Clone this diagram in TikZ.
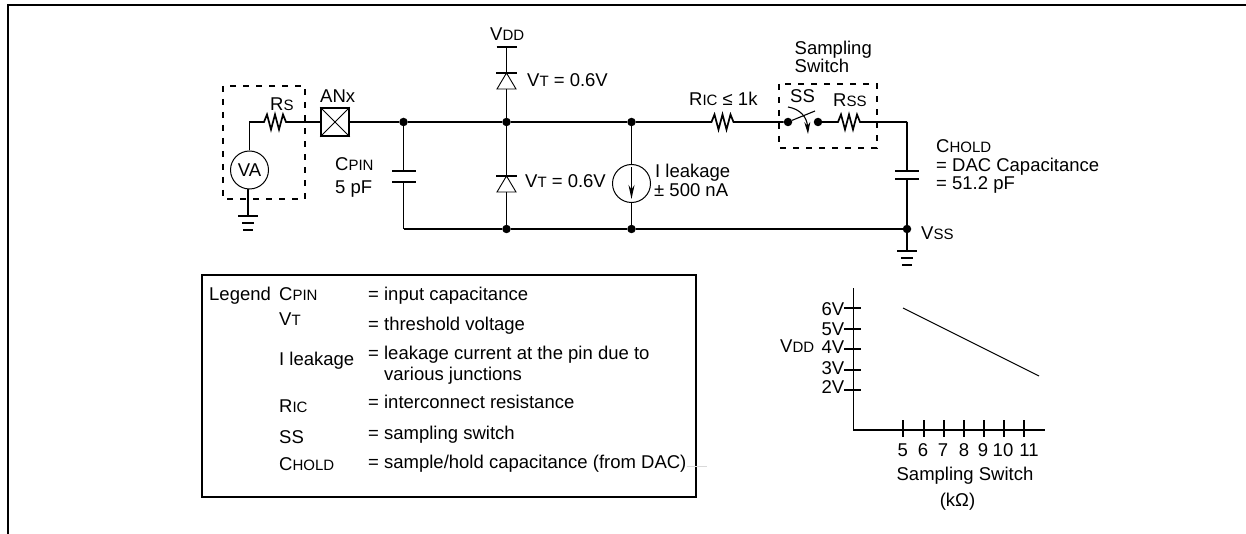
\documentclass[tikz,border=0pt]{standalone}
\usepackage{fontspec}
\setmainfont{Liberation Sans}
\usetikzlibrary{arrows.meta}

\newcommand{\sm}[1]{{\fontsize{15}{15}\selectfont #1}}
\newcommand{\resistor}[2]{\draw[wire] (#1) -- ++(4,0) -- ++(3,-7.5) -- ++(4,15) -- ++(4,-15) -- ++(4,15) -- ++(4,-15) -- ++(3,7.5) -- (#2);}
\newcommand{\diode}[1]{
    \draw[wire] (#1) ++(-10.5,0) -- ++(21,0);
    \draw[thinwire] (#1) -- ++(-9.5,16) -- ++(19,0) -- cycle;
}
\newcommand{\gnd}[1]{
    \draw[wire] (#1) ++(-10,0) -- ++(20,0);
    \draw[wire] (#1) ++(-6,7) -- ++(12,0);
    \draw[wire] (#1) ++(-5,14) -- ++(10,0);
}

\tikzset{
    wire/.style={line width=1.7pt},
    thinwire/.style={line width=0.9pt},
    frameline/.style={line width=2pt},
    dashbox/.style={line width=1.3pt, dash pattern=on 6pt off 7pt},
    dot/.style={circle, fill=black, inner sep=0pt, minimum size=8.5pt},
    lbl/.style={anchor=base west, inner sep=0pt, font=\fontsize{18.5}{18.5}\selectfont},
    clbl/.style={lbl, anchor=base},
    rlbl/.style={lbl, anchor=base east},
    srcnode/.style={draw, circle, line width=1pt, minimum size=38pt, inner sep=0pt}
}

\begin{document}
\begin{tikzpicture}[x=1pt, y=-1pt]
        \useasboundingbox (0,0) rectangle (1246,534);

        % outer frame
        \draw[frameline] (7.5,534) -- (7.5,5.5) -- (1246,5.5);

        % source
        \draw[dashbox] (223,86) rectangle (305,199);
        \node[name=va, srcnode, font=\fontsize{18.5}{18.5}\selectfont] at (249.5,170) {VA};
        \coordinate (rs_in) at (260,122);
        \coordinate (va_top) at (249.5,122);
        \node[name=anx, draw, line width=1.7pt, minimum size=28pt, inner sep=0pt] at (335,122) {};
        \draw[thinwire] (anx.north west) -- (anx.south east);
        \draw[thinwire] (anx.north east) -- (anx.south west);
        \draw[wire] (va.north) -- (va_top) -- (rs_in);
        \resistor{rs_in}{anx.west}
        \coordinate (gnd_a) at (248,216);
        \draw[wire] (248,189) -- (gnd_a);
        \gnd{gnd_a}
        \node[name=rs_lbl, lbl] at (270,110.5) {R\sm{S}};
        \node[name=anx_lbl, lbl] at (320,102.5) {ANx};

        % top and bottom rails
        \node[name=n_1, dot] at (403.5,122) {};
        \node[name=n_2, dot] at (506.5,122) {};
        \node[name=n_3, dot] at (631.5,122) {};
        \node[name=m_2, dot] at (506.5,229) {};
        \node[name=m_3, dot] at (631.5,229) {};
        \node[name=m_4, dot] at (907,229) {};
        \coordinate (m_1) at (403.5,229);
        \draw[wire] (anx.east) -- (n_1) -- (n_2) -- (n_3);
        \draw[wire] (m_1) -- (m_2) -- (m_3) -- (m_4);

        % pin capacitance
        \coordinate (cpin_a) at (403.5,171);
        \coordinate (cpin_b) at (403.5,182);
        \draw[wire] (n_1) -- (cpin_a);
        \draw[wire] (cpin_b) -- (m_1);
        \draw[wire] (392,171) -- (416,171);
        \draw[wire] (392,182) -- (416,182);
        \node[name=cpin_lbl, lbl] at (335,171) {C\sm{PIN}};
        \node[name=cpin_val, lbl] at (335,194) {5 pF};

        % diodes
        \coordinate (vdd) at (506.5,47);
        \coordinate (d_1) at (506.5,73);
        \coordinate (d_1b) at (506.5,89);
        \coordinate (d_2) at (506.5,176);
        \coordinate (d_2b) at (506.5,192);
        \draw[wire] (vdd) ++(-10,0) -- ++(20,0);
        \draw[wire] (vdd) -- (d_1);
        \draw[wire] (d_1b) -- (n_2) -- (d_2);
        \draw[wire] (d_2b) -- (m_2);
        \diode{d_1}
        \diode{d_2}
        \node[name=vdd_lbl, lbl] at (490,40.5) {V\sm{DD}};
        \node[name=vt_1, lbl] at (527,87) {V\sm{T} = 0.6V};
        \node[name=vt_2, lbl] at (525,188) {V\sm{T} = 0.6V};

        % leakage source
        \node[name=ileak, srcnode] at (631.5,183.5) {};
        \draw[wire] (n_3) -- (ileak.north);
        \draw[wire] (ileak.south) -- (m_3);
        \draw[wire, -{Stealth[length=14pt,width=6pt]}] (ileak.north) ++(0,3) -- ++(0,32);
        \node[name=ileak_lbl, lbl] at (655,177.5) {I leakage};
        \node[name=ileak_val, lbl] at (654,196.5) {± 500 nA};

        % interconnect and switch
        \coordinate (ric_in) at (707.5,122);
        \coordinate (rss_in) at (834,122);
        \coordinate (corner) at (907,122);
        \node[name=ss_a, dot] at (788,122) {};
        \node[name=ss_b, dot] at (818,122) {};
        \draw[wire] (n_3) -- (ric_in);
        \resistor{ric_in}{ss_a}
        \draw[wire] (ss_b) -- (rss_in);
        \resistor{rss_in}{corner}
        \draw[line width=1.1pt] (ss_a) -- (815,111);
        \draw[line width=1.1pt, -{Stealth[length=12pt,width=6pt]}] (788,107) .. controls (800,109) and (807,117) .. (808,134);
        \draw[dashbox] (779,84) rectangle (877,148);
        \node[name=ric_lbl, lbl] at (689,106) {R\sm{IC} ≤ 1k};
        \node[name=ss_lbl, lbl] at (790,103) {SS};
        \node[name=rss_lbl, lbl] at (833,106.5) {R\sm{SS}};
        \node[name=sw_lbl_1, lbl] at (794.5,54.5) {Sampling};
        \node[name=sw_lbl_2, lbl] at (794.5,72.5) {Switch};

        % hold capacitance
        \coordinate (chold_a) at (907,171);
        \coordinate (chold_b) at (907,179);
        \coordinate (gnd_b) at (907,251);
        \draw[wire] (corner) -- (chold_a);
        \draw[wire] (chold_b) -- (m_4) -- (gnd_b);
        \draw[wire] (895,171) -- (919,171);
        \draw[wire] (895,179) -- (919,179);
        \gnd{gnd_b}
        \node[name=chold_lbl, lbl] at (936,153) {C\sm{HOLD}};
        \node[name=chold_dac, lbl] at (936,172) {= DAC Capacitance};
        \node[name=chold_val, lbl] at (936,190) {= 51.2 pF};
        \node[name=vss_lbl, lbl] at (921,240) {V\sm{SS}};

        % legend
        \draw[frameline] (202,275) rectangle (696,496.5);
        \draw[gray!30, line width=0.6pt] (687,466) -- (707,466);
        \node[name=leg_title, lbl] at (209,301) {Legend};
        \node[name=leg_1, lbl] at (279,301) {C\sm{PIN}};
        \node[name=leg_2, lbl] at (279,325) {V\sm{T}};
        \node[name=leg_3, lbl] at (279,365) {I leakage};
        \node[name=leg_4, lbl] at (279,412) {R\sm{IC}};
        \node[name=leg_5, lbl] at (279,443) {SS};
        \node[name=leg_6, lbl] at (279,470) {C\sm{HOLD}};
        \node[name=def_1, lbl] at (368,301) {= input capacitance};
        \node[name=def_2, lbl] at (368,330) {= threshold voltage};
        \node[name=def_3, lbl] at (368,359) {= leakage current at the pin due to};
        \node[name=def_3b, lbl] at (384,380) {various junctions};
        \node[name=def_4, lbl] at (368,408) {= interconnect resistance};
        \node[name=def_5, lbl] at (368,439) {= sampling switch};
        \node[name=def_6, lbl] at (368,468) {= sample/hold capacitance (from DAC)};

        % graph
        \coordinate (origin) at (853.5,430);
        \coordinate (y_end) at (853.5,288.5);
        \coordinate (x_end) at (1045,430);
        \draw[wire] (y_end) -- (origin) -- (x_end);
        \foreach \y/\t/\b in {308/6/316, 328.7/5/335, 349/4/353.5, 369.7/3/374, 389.7/2/393}
            {
                \draw[wire] (844,\y) -- (860.5,\y);
                \node[name=ylab_\t, rlbl] at (844.5,\b) {\t V};
            }
        \foreach \x/\t/\l in {903/5/902.7, 924/6/923, 944/7/943, 964/8/964, 984/9/983, 1004/10/1003, 1024/11/1029}
            {
                \draw[wire] (\x,420) -- (\x,436.5);
                \node[name=xlab_\t, clbl] at (\l,456.5) {\t};
            }
        \coordinate (trend_a) at (903,308);
        \coordinate (trend_b) at (1039,376);
        \draw[line width=1.1pt] (trend_a) -- (trend_b);
        \node[name=vdd_axis, lbl] at (780,352.5) {V\sm{DD}};
        \node[name=x_title, clbl] at (965,480.5) {Sampling Switch};
        \node[name=x_unit, clbl] at (957.5,506.5) {(kΩ)};
\end{tikzpicture}
\end{document}
